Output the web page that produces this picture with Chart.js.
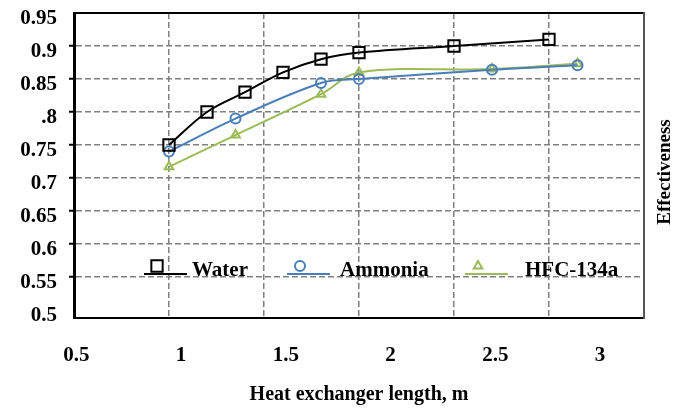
<!DOCTYPE html>
<html>
<head>
<meta charset="utf-8">
<script src="https://cdn.jsdelivr.net/npm/chart.js@4/dist/chart.umd.min.js"></script>
<style>
  html, body { margin: 0; padding: 0; background: #fff; }
</style>
</head>
<body>
<canvas id="myChart" width="681" height="408"></canvas>
<script>
document.addEventListener("DOMContentLoaded", function () {

  // values
  const seriesNames = ["Water", "Ammonia", "HFC-134a"];
  const waterLength = [1.0, 1.2, 1.4, 1.6, 1.8, 2.0, 2.5, 3.0];
  const waterEff = [0.75, 0.80, 0.83, 0.86, 0.88, 0.89, 0.90, 0.91];
  const ammoniaLength = [1.0, 1.35, 1.8, 2.0, 2.7, 3.15];
  const ammoniaEff = [0.74, 0.79, 0.844, 0.85, 0.864, 0.871];
  const hfcLength = [1.0, 1.35, 1.8, 2.0, 2.7, 3.15];
  const hfcEff = [0.717, 0.765, 0.827, 0.86, 0.865, 0.873];
  const xTickLabels = ["0.5", "1", "1.5", "2", "2.5", "3"];
  const yTickLabels = ["0.5", "0.55", "0.6", "0.65", "0.7", "0.75", ".8", "0.85", "0.9", "0.95"];
  const xTitle = "Heat exchanger length, m";
  const yTitle = "Effectiveness";

  const serif = "'Liberation Serif', 'Times New Roman', serif";
  const tickFont = { family: serif, size: 21, weight: "bold" };
  const gridGray = "#808080";
  const clear = "rgba(0,0,0,0)";

  function points(xs, ys) {
    return xs.map((x, i) => ({ x: x, y: ys[i] }));
  }

  // legend inside the plot + right side title (reads bottom to top)
  const extras = {
    id: "extras",
    afterDraw(chart) {
      const ctx = chart.ctx;
      const area = chart.chartArea;
      ctx.save();
      ctx.font = "bold 19px " + serif;
      ctx.fillStyle = "#000";
      ctx.textAlign = "center";
      ctx.textBaseline = "middle";
      ctx.translate(area.right + 21, area.top + 159);
      ctx.rotate(-Math.PI / 2);
      ctx.fillText(yTitle, 0, 0);
      ctx.restore();

      const lineY = area.top + 261;
      const slots = [{ x: 144, tx: 192 }, { x: 287, tx: 340 }, { x: 465, tx: 525 }];
      chart.data.datasets.forEach((ds, i) => {
        const s = slots[i];
        ctx.save();
        ctx.strokeStyle = ds.borderColor;
        ctx.lineWidth = 2;
        ctx.beginPath();
        ctx.moveTo(s.x, lineY);
        ctx.lineTo(s.x + 43, lineY);
        ctx.stroke();
        ctx.fillStyle = clear;
        Chart.helpers.drawPoint(ctx, {
          pointStyle: ds.pointStyle,
          radius: ds.pointRadius,
          rotation: 0,
          borderWidth: 2
        }, s.x + 13, lineY - 8);
        ctx.font = "bold 21px " + serif;
        ctx.fillStyle = "#000";
        ctx.textBaseline = "middle";
        ctx.fillText(ds.label, s.tx, lineY - 3);
        ctx.restore();
      });
    }
  };

  const config = {
    type: "line",
    data: {
      datasets: [
        {
          label: seriesNames[0],
          data: points(waterLength, waterEff),
          borderColor: "#000",
          borderWidth: 2,
          pointStyle: "rect",
          pointRadius: 8,
          pointBorderWidth: 2,
          pointBorderColor: "#000",
          pointBackgroundColor: clear,
          tension: 0.35
        },
        {
          label: seriesNames[1],
          data: points(ammoniaLength, ammoniaEff),
          borderColor: "#4a7ebb",
          borderWidth: 2,
          pointStyle: "circle",
          pointRadius: 5,
          pointBorderWidth: 2,
          pointBorderColor: "#4a7ebb",
          pointBackgroundColor: clear,
          tension: 0.35
        },
        {
          label: seriesNames[2],
          data: points(hfcLength, hfcEff),
          borderColor: "#9bbb59",
          borderWidth: 2,
          pointStyle: "triangle",
          pointRadius: 5,
          pointBorderWidth: 2,
          pointBorderColor: "#9bbb59",
          pointBackgroundColor: clear,
          tension: 0.35
        }
      ]
    },
    options: {
      responsive: false,
      animation: false,
      layout: { padding: { top: 13, left: 0, right: 0, bottom: 0 } },
      plugins: { legend: { display: false }, tooltip: { enabled: false } },
      scales: {
        x: {
          type: "linear",
          position: "bottom",
          min: 0.5,
          max: 3.5,
          ticks: { display: false, stepSize: 0.5 },
          grid: {
            color: c => (c.tick && (c.tick.value < 0.6 || c.tick.value > 3.4)) ? clear : gridGray,
            lineWidth: 1.5,
            drawTicks: false
          },
          border: { display: true, color: "#000", width: 2, dash: [6, 3] }
        },
        xLab: {
          type: "linear",
          position: "bottom",
          weight: 1,
          min: 0.489,
          max: 3.21,
          afterFit: s => { s.height = 90; },
          grid: { display: false, drawTicks: false },
          border: { display: false },
          ticks: {
            stepSize: 0.5,
            includeBounds: false,
            padding: 25,
            color: "#000",
            font: tickFont,
            callback: v => xTickLabels[Math.round((v - 0.5) / 0.5)]
          },
          title: {
            display: true,
            text: xTitle,
            color: "#000",
            font: { family: serif, size: 20, weight: "bold" },
            padding: { top: 0, bottom: 1 }
          }
        },
        xTop: {
          type: "linear",
          position: "top",
          min: 0.5,
          max: 3.5,
          ticks: { display: false },
          grid: { display: false, drawTicks: false },
          border: { display: true, color: "#000", width: 2 }
        },
        y: {
          position: "left",
          min: 0.4879,
          max: 0.95,
          afterFit: s => { s.width = 74; s.paddingTop = 0; s.paddingBottom = 0; },
          ticks: {
            stepSize: 0.05,
            includeBounds: false,
            padding: 12,
            labelOffset: 6,
            color: "#000",
            font: tickFont,
            callback: v => yTickLabels[Math.round((v - 0.5) / 0.05)]
          },
          grid: {
            color: c => (c.tick && (c.tick.value < 0.52 || c.tick.value > 0.93)) ? clear : gridGray,
            lineWidth: 1.5,
            tickLength: 5,
            tickWidth: 2,
            tickBorderDash: [],
            tickColor: c => (c.tick && (c.tick.value < 0.52 || c.tick.value > 0.93)) ? clear : "#000"
          },
          border: { display: true, color: "#000", width: 3, dash: [6, 3] }
        },
        yR: {
          position: "right",
          min: 0.4879,
          max: 0.95,
          afterFit: s => { s.width = 37; s.paddingTop = 0; s.paddingBottom = 0; },
          ticks: { display: false },
          grid: { display: false, drawTicks: false },
          border: { display: true, color: "#555", width: 2 }
        }
      }
    },
    plugins: [extras]
  };

  const myChart = new Chart(document.getElementById("myChart"), config);
});
</script>
</body>
</html>
